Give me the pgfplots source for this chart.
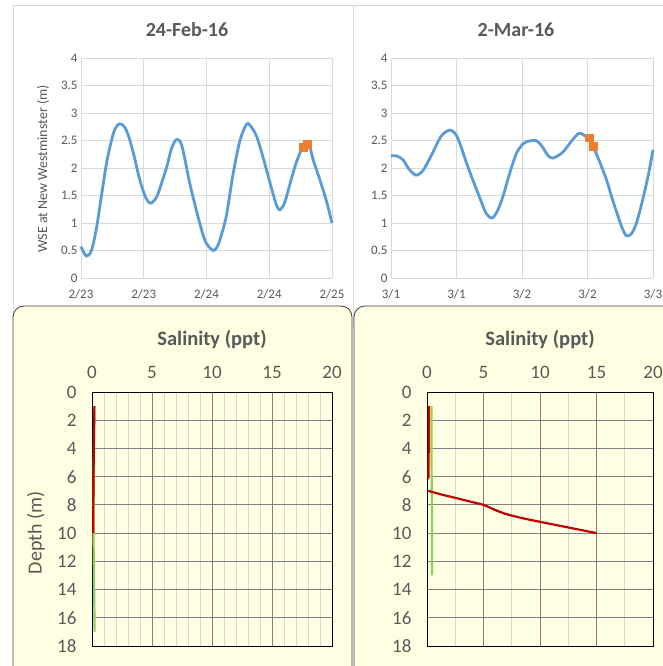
\documentclass[border=0pt]{standalone}
\usepackage{pgfplots}
\pgfplotsset{compat=1.18}
\usepackage{fontspec}
\setmainfont{Carlito}
\definecolor{txt}{HTML}{595959}
\definecolor{gridc}{HTML}{D9D9D9}
\definecolor{tblue}{HTML}{5B9BD5}
\definecolor{torange}{HTML}{ED7D31}
\definecolor{panel}{HTML}{FFFFE3}
\definecolor{sred}{HTML}{C00000}
\definecolor{sgreen}{HTML}{92D050}
\definecolor{majg}{HTML}{808080}
\definecolor{ming}{HTML}{D6D6D6}
\pgfplotsset{
  tide/.style={
    scale only axis, width=251pt, height=220pt,
    xmin=0, xmax=48, ymin=0, ymax=4,
    xtick={0,12,24,36,48}, ytick={0,0.5,...,4},
    grid=major, major grid style={gridc, line width=0.8pt},
    axis line style={draw=none}, tick style={draw=none},
    ticklabel style={font=\fontsize{13}{15}\selectfont, text=txt},
    /pgf/number format/assume math mode=true,
    xticklabel style={yshift=-8pt},
    yticklabel style={/pgf/number format/fixed},
    clip=false,
  },
  sal/.style={
    scale only axis, height=254pt,
    xmin=0, xmax=20, ymin=0, ymax=18, y dir=reverse,
    xtick={0,5,...,20}, ytick={0,2,...,18},
    axis line style={black, line width=0.8pt},
    axis lines=box,
    xticklabel pos=top,
    grid=both, major grid style={majg, line width=0.8pt},
    minor grid style={ming, line width=0.8pt},
    tick style={draw=none},
    ticklabel style={font=\fontsize{19}{21}\selectfont, text=txt},
    /pgf/number format/assume math mode=true,
    xticklabel style={yshift=10pt},
    yticklabel style={xshift=-12pt},
  },
}
\begin{document}
\begin{tikzpicture}[x=1pt,y=1pt]
\path[use as bounding box] (0,0) rectangle (663,666);
\clip (0,0) rectangle (663,666);
\fill[white] (0,0) rectangle (663,666);
% top panel frames
\draw[gridc, line width=0.8pt] (13,661) rectangle (353,340);
\draw[gridc, line width=0.8pt] (353,661) rectangle (700,340);
% titles and labels
\node[font=\fontsize{20}{22}\selectfont\bfseries, text=txt] at (187,636) {24-Feb-16};
\node[font=\fontsize{20}{22}\selectfont\bfseries, text=txt] at (516,636) {2-Mar-16};
\node[font=\fontsize{14}{16}\selectfont, text=txt, rotate=90] at (43,497) {WSE at New Westminster (m)};

% top left tide
\begin{axis}[tide, at={(81pt,388pt)}, anchor=south west, width=251pt,
  xticklabels={2/23,2/23,2/24,2/24,2/25}]
\addplot[tblue, line width=2.8pt, smooth] coordinates {
(0,0.57)(1,0.40)(2,0.50)(3,0.93)(4,1.55)(5,2.15)(6.2,2.63)(7,2.78)(7.7,2.80)(8.5,2.72)(9.3,2.52)
(10.2,2.20)(11.2,1.80)(12.3,1.48)(13.3,1.36)(14.5,1.48)(15.5,1.75)(16.4,2.02)(17.3,2.35)(18.3,2.52)
(19.3,2.40)(20.8,1.72)(21.8,1.33)(22.7,1.00)(23.8,0.66)(25.3,0.50)(26.3,0.62)(27.2,0.90)(27.9,1.18)
(29.1,1.90)(30.4,2.50)(31.7,2.80)(32.6,2.74)(33.6,2.57)(34.8,2.20)(35.8,1.85)(36.7,1.54)(37.4,1.32)
(38,1.24)(38.9,1.36)(40,1.72)(41,2.05)(42,2.30)(42.9,2.42)(43.6,2.44)(44.4,2.15)(45.7,1.78)(47,1.38)(48,1.0)};
\addplot[only marks, mark=square*, mark size=3.8pt, color=torange] coordinates {(42.5,2.38)(43.3,2.43)};
\end{axis}

% top right tide
\begin{axis}[tide, at={(391pt,388pt)}, anchor=south west, width=262pt,
  xticklabels={3/1,3/1,3/2,3/2,3/3}]
\addplot[tblue, line width=2.8pt, smooth] coordinates {
(0,2.22)(1,2.22)(2.2,2.15)(3.3,1.98)(4.6,1.87)(5.9,1.96)(7.5,2.25)(9.2,2.58)(10.8,2.69)(11.8,2.62)
(12.6,2.45)(13.8,2.10)(15,1.78)(16.3,1.45)(17.4,1.18)(18.5,1.09)(19.5,1.22)(20.5,1.48)(21.8,1.92)
(23,2.27)(24.2,2.44)(25.3,2.49)(26.5,2.50)(27.3,2.44)(27.9,2.36)(28.8,2.22)(29.7,2.18)(30.7,2.23)
(31.6,2.30)(33,2.48)(34.4,2.63)(35.3,2.60)(36.2,2.53)(37,2.40)(38.2,2.12)(39.5,1.78)(40.5,1.45)
(41.4,1.18)(42.3,0.92)(43.1,0.77)(44,0.80)(44.8,0.95)(45.6,1.22)(46.3,1.50)(47.2,1.90)(48,2.33)};
\addplot[only marks, mark=square*, mark size=3.8pt, color=torange] coordinates {(36.3,2.55)(37.0,2.40)};
\end{axis}

% bottom panels
\filldraw[fill=panel, draw=black!75, line width=0.8pt, rounded corners=11pt] (13,360) rectangle (352,-20);
\filldraw[fill=panel, draw=black!75, line width=0.8pt, rounded corners=11pt] (354,360) rectangle (700,-20);
\node[font=\fontsize{20.5}{22}\selectfont\bfseries, text=txt] at (212,326) {Salinity (ppt)};
\node[font=\fontsize{20.5}{22}\selectfont\bfseries, text=txt] at (540,326) {Salinity (ppt)};
\node[font=\fontsize{20}{22}\selectfont, text=txt, rotate=90] at (36,133) {Depth (m)};

\begin{axis}[sal, at={(92pt,20pt)}, anchor=south west, width=240pt, minor x tick num=4]
\addplot[sgreen, line width=2.2pt] coordinates {(0.2,1)(0.15,5)(0.12,10)(0.18,14)(0.22,17)};
\addplot[sred, line width=2.2pt] coordinates {(0.2,1)(0.15,4)(0.12,7)(0.1,10)};
\end{axis}

\begin{axis}[sal, at={(427pt,20pt)}, anchor=south west, width=226pt, minor x tick num=1]
\addplot[sgreen, line width=2.2pt] coordinates {(0.4,1)(0.4,5)(0.45,9)(0.45,13)};
\addplot[sred, line width=2.2pt] coordinates {(0.15,1)(0.15,4)(0.12,6.2)};
\addplot[sred, line width=2.2pt, smooth] coordinates {(0.1,7)(1.2,7.25)(2.5,7.5)(4,7.8)(5,8)(6,8.35)(7,8.65)(8.5,8.95)(10,9.2)(12.5,9.6)(15,10)};
\end{axis}
\end{tikzpicture}
\end{document}
